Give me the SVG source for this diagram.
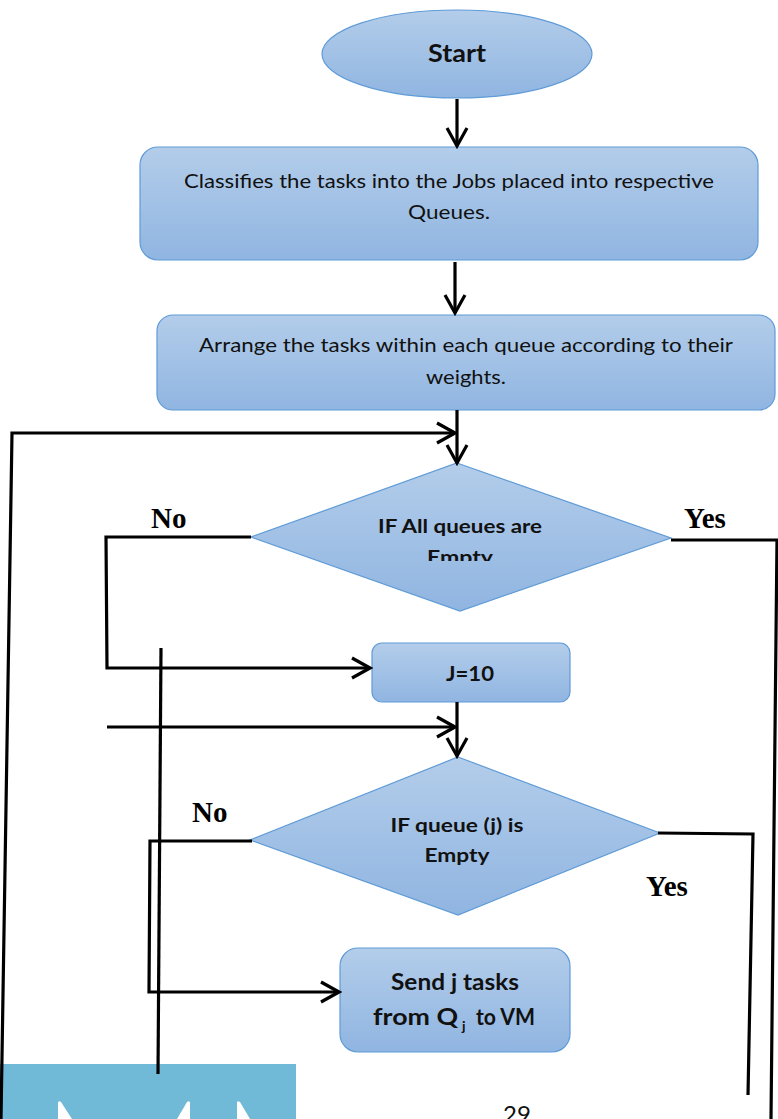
<svg xmlns="http://www.w3.org/2000/svg" width="778" height="1119" viewBox="0 0 778 1119">
  <defs>
    <linearGradient id="fillBlue" x1="0" y1="0" x2="0" y2="1">
      <stop offset="0" stop-color="#b3cdea"/>
      <stop offset="1" stop-color="#90b5e1"/>
    </linearGradient>
    <marker id="arrow" viewBox="-22 -13 25 26" refX="0" refY="0" markerWidth="25" markerHeight="26" markerUnits="userSpaceOnUse" orient="auto">
      <path d="M-18,-10 L0,0 L-18,10" fill="none" stroke="#000" stroke-width="3.2" stroke-linejoin="miter"/>
    </marker>
    <clipPath id="clipEmpty">
      <rect x="300" y="540" width="320" height="21"/>
    </clipPath>
  </defs>
  <style>
    .shape { fill: url(#fillBlue); stroke: #5f9bd7; stroke-width: 1.2; }
    .line { fill: none; stroke: #000; stroke-width: 3.2; stroke-linejoin: miter; }
    .txt { font-family: Lato, "Liberation Sans", sans-serif; fill: #111; text-anchor: middle; }
    .b { font-weight: bold; }
    .lbl { font-family: "Liberation Serif", "Times New Roman", serif; font-weight: bold; font-size: 29px; fill: #000; }
  </style>

  <rect width="778" height="1119" fill="#fff"/>

  <!-- page footer -->
  <g id="footer">
    <rect x="0" y="1064" width="296" height="55" fill="#70bad8"/>
    <path d="M58,1119 L58,1103 Q58,1100 61,1102 L72,1119 Z" fill="#fff"/>
    <path d="M190,1119 L190,1103 Q190,1100 187,1102 L177,1119 Z" fill="#fff"/>
    <path d="M237,1119 L237,1103 Q237,1100 240,1102 L250,1119 Z" fill="#fff"/>
    <text x="503" y="1123" font-family="Lato, 'Liberation Sans', sans-serif" font-size="24" fill="#111">29</text>
  </g>

  <g id="start">
    <ellipse class="shape" cx="457" cy="54" rx="135" ry="44"/>
    <text class="txt b" x="457" y="62" font-size="24" textLength="58" lengthAdjust="spacingAndGlyphs">Start</text>
  </g>

  <g id="classify">
    <rect class="shape" x="140" y="147" width="618" height="113" rx="18"/>
    <text class="txt" x="449" y="188" font-size="20" textLength="530" lengthAdjust="spacingAndGlyphs">Classifies the tasks into the Jobs placed into respective</text>
    <text class="txt" x="449" y="219" font-size="20" textLength="82" lengthAdjust="spacingAndGlyphs">Queues.</text>
  </g>

  <g id="arrange">
    <rect class="shape" x="157" y="315" width="618" height="95" rx="16"/>
    <text class="txt" x="466" y="352" font-size="20" textLength="534" lengthAdjust="spacingAndGlyphs">Arrange the tasks within each queue according to their</text>
    <text class="txt" x="466" y="384" font-size="20" textLength="80" lengthAdjust="spacingAndGlyphs">weights.</text>
  </g>

  <g id="all-empty">
    <polygon class="shape" points="457,463 671,538 460,611 251,537"/>
    <text class="txt b" x="460" y="533" font-size="19" textLength="164" lengthAdjust="spacingAndGlyphs">IF All queues are</text>
    <text class="txt b" x="460" y="564" font-size="19" textLength="66" lengthAdjust="spacingAndGlyphs" clip-path="url(#clipEmpty)">Empty</text>
  </g>

  <g id="init-j">
    <rect class="shape" x="372" y="643" width="198" height="59" rx="10"/>
    <text class="txt b" x="470" y="681" font-size="20" textLength="48" lengthAdjust="spacingAndGlyphs">J=10</text>
  </g>

  <g id="queue-empty">
    <polygon class="shape" points="458,757 660,833 458,915 250,840"/>
    <text class="txt b" x="457" y="832" font-size="18.5" textLength="133" lengthAdjust="spacingAndGlyphs">IF queue (j) is</text>
    <text class="txt b" x="457" y="862" font-size="18.5" textLength="65" lengthAdjust="spacingAndGlyphs">Empty</text>
  </g>

  <g id="send">
    <rect class="shape" x="340" y="948" width="230" height="104" rx="18"/>
    <text class="txt b" x="455" y="990" font-size="22" textLength="128" lengthAdjust="spacingAndGlyphs">Send j tasks</text>
    <text class="txt b" font-size="22" style="text-anchor:start"><tspan x="373" y="1025" textLength="85" lengthAdjust="spacingAndGlyphs">from Q</tspan><tspan x="462" y="1031" font-size="14">j</tspan><tspan x="476" y="1025" textLength="59" lengthAdjust="spacingAndGlyphs">to VM</tspan></text>
  </g>

  <g id="labels">
    <text class="lbl" x="151" y="528">No</text>
    <text class="lbl" x="684" y="528">Yes</text>
    <text class="lbl" x="192" y="822">No</text>
    <text class="lbl" x="646" y="896">Yes</text>
  </g>

  <g id="connectors">
    <line class="line" x1="457" y1="99" x2="457" y2="146" marker-end="url(#arrow)"/>
    <line class="line" x1="455" y1="262" x2="455" y2="313" marker-end="url(#arrow)"/>
    <line class="line" x1="457" y1="410" x2="457" y2="463" marker-end="url(#arrow)"/>
    <polyline class="line" points="1,1119 12,433 455,433" marker-end="url(#arrow)"/>
    <polyline class="line" points="251,537 106,537 107,668 370,668" marker-end="url(#arrow)"/>
    <polyline class="line" points="671,540 777,540 771,1119"/>
    <line class="line" x1="457" y1="702" x2="457" y2="756" marker-end="url(#arrow)"/>
    <line class="line" x1="107" y1="727" x2="455" y2="727" marker-end="url(#arrow)"/>
    <line class="line" x1="161" y1="648" x2="158" y2="1074"/>
    <polyline class="line" points="252,841 150,841 149,992 339,992" marker-end="url(#arrow)"/>
    <polyline class="line" points="658,833 753,834 748,1095"/>
  </g>
</svg>
